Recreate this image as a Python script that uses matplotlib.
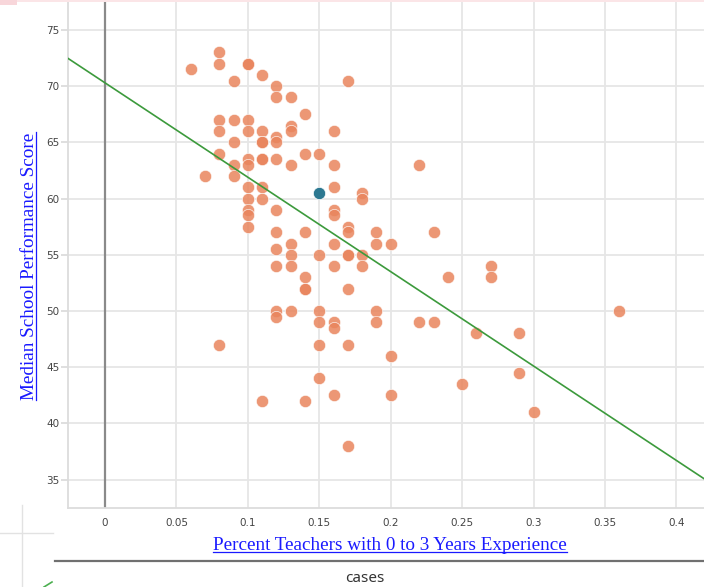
import matplotlib
matplotlib.use("Agg")
import matplotlib.pyplot as plt
import numpy as np
from matplotlib.lines import Line2D
from matplotlib.patches import Rectangle

# ---- data -------------------------------------------------------------
teacher_pct = [
    0.06,
    0.07,
    0.08, 0.08, 0.08, 0.08, 0.08, 0.08,
    0.09, 0.09, 0.09, 0.09, 0.09,
    0.10, 0.10, 0.10, 0.10, 0.10, 0.10, 0.10, 0.10, 0.10, 0.10, 0.10,
    0.11, 0.11, 0.11, 0.11, 0.11, 0.11, 0.11, 0.11, 0.11,
    0.12, 0.12, 0.12, 0.12, 0.12, 0.12, 0.12, 0.12, 0.12, 0.12, 0.12,
    0.13, 0.13, 0.13, 0.13, 0.13, 0.13, 0.13, 0.13,
    0.14, 0.14, 0.14, 0.14, 0.14, 0.14, 0.14,
    0.15, 0.15, 0.15, 0.15, 0.15, 0.15,
    0.16, 0.16, 0.16, 0.16, 0.16, 0.16, 0.16, 0.16, 0.16, 0.16,
    0.17, 0.17, 0.17, 0.17, 0.17, 0.17, 0.17, 0.17,
    0.18, 0.18, 0.18, 0.18,
    0.19, 0.19, 0.19, 0.19,
    0.20, 0.20, 0.20,
    0.22, 0.22,
    0.23, 0.23,
    0.24,
    0.25,
    0.26,
    0.27, 0.27,
    0.29, 0.29,
    0.30,
    0.36,
]
perf_score = [
    71.5,
    62,
    73, 72, 67, 66, 64, 47,
    70.5, 67, 65, 63, 62,
    72, 72, 67, 66, 63.5, 63, 61, 60, 59, 58.5, 57.5,
    71, 66, 65, 65, 63.5, 63.5, 61, 60, 42,
    70, 69, 65.5, 65, 63.5, 59, 57, 55.5, 54, 50, 49.5,
    69, 66.5, 66, 63, 56, 55, 54, 50,
    67.5, 64, 57, 53, 52, 52, 42,
    64, 55, 50, 49, 47, 44,
    66, 63, 61, 59, 58.5, 56, 54, 49, 48.5, 42.5,
    70.5, 57.5, 57, 55, 55, 52, 47, 38,
    60.5, 60, 55, 54,
    57, 56, 50, 49,
    56, 46, 42.5,
    63, 49,
    57, 49,
    53,
    43.5,
    48,
    54, 53,
    48, 44.5,
    41,
    50,
]

# highlighted case
selected_pct = [0.15]
selected_score = [60.5]

# least-squares line
fit_intercept = 70.3
fit_slope = -84.0

x_ticks = [0, 0.05, 0.1, 0.15, 0.2, 0.25, 0.3, 0.35, 0.4]
x_tick_labels = ["0", "0.05", "0.1", "0.15", "0.2", "0.25", "0.3", "0.35", "0.4"]
y_ticks = [35, 40, 45, 50, 55, 60, 65, 70, 75]
y_tick_labels = [str(v) for v in y_ticks]

x_title = "Percent Teachers with 0 to 3 Years Experience"
y_title = "Median School Performance Score"
legend_title = "cases"

# ---- figure -----------------------------------------------------------
W, H = 704, 587
fig = plt.figure(figsize=(W / 100, H / 100), dpi=100)
fig.patch.set_facecolor("white")

ax_left, ax_bottom_px = 68, 508
ax = fig.add_axes([ax_left / W, (H - ax_bottom_px) / H, (W - ax_left) / W, ax_bottom_px / H])
ax.set_facecolor("white")

ax.set_xlim(-0.0259, 0.4193)
ax.set_ylim(32.47, 77.67)

grid_c = "#e6e6e6"
ax.set_xticks(x_ticks)
ax.set_xticklabels(x_tick_labels)
ax.set_yticks(y_ticks)
ax.set_yticklabels(y_tick_labels)
ax.grid(True, color=grid_c, lw=1.3, zorder=0)
ax.set_axisbelow(True)

for side in ("top", "right"):
    ax.spines[side].set_visible(False)
for side in ("left", "bottom"):
    ax.spines[side].set_color("#dcdcdc")
    ax.spines[side].set_linewidth(1.3)

ax.tick_params(axis="y", direction="out", length=5, width=1.3, color="#dcdcdc",
               labelsize=7.5, labelcolor="#444444", pad=1)
ax.tick_params(axis="x", length=0, labelsize=7.5, labelcolor="#444444", pad=7)

# zero reference line
ax.axvline(0, color="#8a8a8a", lw=1.6, zorder=1)

# cases
ax.scatter(teacher_pct, perf_score, s=78, c="#e9855d", alpha=0.85,
           edgecolors="white", linewidths=0.5, zorder=3)
ax.scatter(selected_pct, selected_score, s=78, c="#2c7891",
           edgecolors="white", linewidths=0.5, zorder=4)

# regression line
xs = np.array(ax.get_xlim())
ax.plot(xs, fit_intercept + fit_slope * xs, color="#3c9a3c", lw=1.2, zorder=5)

# ---- axis titles (blue, underlined links) ------------------------------
link_c = "#1a1aff"
serif = ["Liberation Serif", "DejaVu Serif"]
tx = fig.text(390 / W, 1 - 546 / H, x_title, ha="center", va="center",
              color=link_c, fontsize=13.8, family=serif)
ty = fig.text(30 / W, 1 - 266 / H, y_title, ha="center", va="center",
              rotation=90, color=link_c, fontsize=13.8, family=serif)

fig.canvas.draw()
r = fig.canvas.get_renderer()
bx = tx.get_window_extent(r)
fig.add_artist(Line2D([bx.x0 / W, bx.x1 / W], [(bx.y0 + 2.5) / H] * 2,
                      transform=fig.transFigure, color=link_c, lw=0.9))
by = ty.get_window_extent(r)
fig.add_artist(Line2D([(by.x1 - 2.5) / W] * 2, [by.y0 / H, by.y1 / H],
                      transform=fig.transFigure, color=link_c, lw=0.9))

# ---- legend area below the plot ----------------------------------------
fig.add_artist(Line2D([55 / W, 1.0], [1 - 561 / H] * 2, transform=fig.transFigure,
                      color="#707070", lw=1.6))
fig.text(365 / W, 1 - 578 / H, legend_title, ha="center", va="center",
         color="#333333", fontsize=11, family=["Noto Sans", "DejaVu Sans"])

# light divider cross in the lower-left corner
fig.add_artist(Line2D([22 / W] * 2, [0, 1 - 505 / H], transform=fig.transFigure,
                      color="#e2e2e2", lw=1.0))
fig.add_artist(Line2D([0, 53 / W], [1 - 533 / H] * 2, transform=fig.transFigure,
                      color="#e2e2e2", lw=1.0))
fig.add_artist(Line2D([44 / W, 52 / W], [0, 5 / H], transform=fig.transFigure,
                      color="#4caf50", lw=1.2))

# thin tinted strip at the top edge
fig.add_artist(Rectangle((0, 1 - 5 / H), 17 / W, 5 / H, transform=fig.transFigure,
                         facecolor="#f8d6da", edgecolor="none", zorder=10))
fig.add_artist(Rectangle((17 / W, 1 - 2 / H), 1 - 17 / W, 2 / H, transform=fig.transFigure,
                         facecolor="#fbe5e7", edgecolor="none", zorder=10))

fig.savefig("out.png", dpi=100)
